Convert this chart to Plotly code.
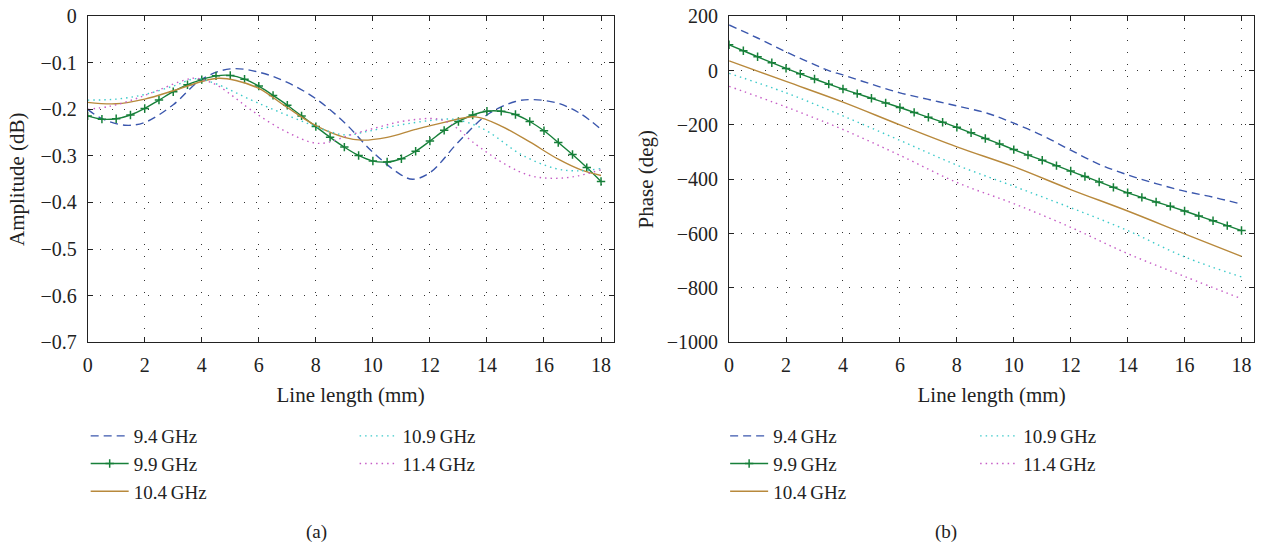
import plotly.graph_objects as go

# ---------------- data ----------------
labels = ["9.4\u2009GHz", "9.9\u2009GHz", "10.4\u2009GHz", "10.9\u2009GHz", "11.4\u2009GHz"]

# Amplitude (dB)
amp94_x = [0, 0.5, 1.3, 2, 3, 4, 5, 6, 7, 8, 9, 10, 11, 11.4, 12, 13, 14, 15, 15.6, 16.5, 17.3, 18]
amp94_y = [-0.200, -0.220, -0.234, -0.228, -0.190, -0.135, -0.113, -0.120, -0.142, -0.177, -0.228,
           -0.292, -0.341, -0.350, -0.336, -0.270, -0.212, -0.183, -0.179, -0.187, -0.210, -0.243]

amp99_x = [0, 0.5, 1, 1.5, 2, 2.5, 3, 3.5, 4, 4.5, 5, 5.5, 6, 6.5, 7, 7.5, 8, 8.5, 9, 9.5,
           10, 10.5, 11, 11.5, 12, 12.5, 13, 13.5, 14, 14.5, 15, 15.5, 16, 16.5, 17, 17.5, 18]
amp99_y = [-0.214, -0.221, -0.220, -0.212, -0.198, -0.180, -0.162, -0.147, -0.136, -0.128, -0.127,
           -0.135, -0.150, -0.170, -0.191, -0.214, -0.237, -0.260, -0.281, -0.299, -0.311, -0.313,
           -0.306, -0.290, -0.268, -0.245, -0.226, -0.212, -0.204, -0.204, -0.211, -0.226, -0.246,
           -0.271, -0.297, -0.325, -0.355]

amp104_x = [0, 1, 2, 3, 4, 4.6, 5.2, 6, 7, 8, 9, 9.6, 10.5, 11.5, 12.5, 13.6, 14.5, 15.5, 16.5, 17.3, 18]
amp104_y = [-0.185, -0.188, -0.178, -0.160, -0.140, -0.133, -0.138, -0.155, -0.196, -0.235, -0.260,
            -0.266, -0.260, -0.243, -0.228, -0.216, -0.236, -0.270, -0.307, -0.330, -0.342]

amp109_x = [0, 1, 2, 3, 3.8, 4.5, 5.7, 6.5, 7.5, 8.5, 9.1, 9.9, 11, 12, 12.8, 13.5, 14.1, 15.2, 16.4, 17.2, 18]
amp109_y = [-0.180, -0.178, -0.168, -0.150, -0.134, -0.145, -0.179, -0.200, -0.225, -0.248, -0.255,
            -0.246, -0.233, -0.224, -0.221, -0.232, -0.250, -0.297, -0.327, -0.332, -0.327]

amp114_x = [0, 0.8, 1.6, 2.5, 3.4, 3.8, 4.5, 5.1, 5.7, 6.9, 8.1, 9.3, 10.2, 11.1, 12.3, 12.9, 13.5,
            14.7, 15.5, 16.2, 17, 18]
amp114_y = [-0.200, -0.193, -0.179, -0.158, -0.137, -0.133, -0.147, -0.172, -0.200, -0.246, -0.273,
            -0.253, -0.238, -0.225, -0.221, -0.238, -0.270, -0.320, -0.342, -0.348, -0.345, -0.330]

# Phase (deg)
ph94_x = [0, 1, 2, 3, 3.5, 4, 5, 6, 7, 8, 9, 9.8, 11, 12, 13, 14, 15, 16, 17, 18]
ph94_y = [168, 120, 69, 22, 0, -16, -50, -82, -106, -130, -155, -185, -239, -293, -345, -384, -416,
          -444, -466, -492]

ph99_x = amp99_x
ph99_y = [95, 73, 51, 29, 8, -12, -31, -50, -68, -85, -102, -119, -136, -154, -172, -190, -209, -229,
          -250, -270, -291, -311, -330, -350, -370, -390, -410, -430, -450, -467, -484, -500, -517,
          -535, -553, -571, -589]

ph_x = [0, 2, 4, 6, 8, 10, 12, 14, 16, 18]
ph104_y = [36, -40, -116, -200, -281, -354, -438, -517, -601, -684]
ph109_y = [-10, -82, -167, -257, -348, -426, -505, -589, -686, -760]
ph114_y = [-58, -134, -217, -312, -412, -490, -577, -674, -758, -840]

# ---------------- styles ----------------
colors = ["#3b57ad", "#17803a", "#b8893c", "#3ccaca", "#c65cc6"]
dashes = ["8px,5px", "solid", "solid", "1.5px,4px", "1.5px,4px"]
FONT = "Liberation Serif"
FS_TICK = 20
FS_TITLE = 21
FS_LEG = 19
W, H = 1261, 548

fig = go.Figure()

amp_series = [(amp94_x, amp94_y), (amp99_x, amp99_y), (amp104_x, amp104_y),
              (amp109_x, amp109_y), (amp114_x, amp114_y)]
ph_series = [(ph94_x, ph94_y), (ph99_x, ph99_y), (ph_x, ph104_y), (ph_x, ph109_y), (ph_x, ph114_y)]

for side, series, xa, ya, lg_a, lg_b in [
    ("a", amp_series, "x", "y", "legend", "legend2"),
    ("b", ph_series, "x2", "y2", "legend3", "legend4"),
]:
    for i, (xs, ys) in enumerate(series):
        kw = dict(
            x=xs, y=ys, name=labels[i], xaxis=xa, yaxis=ya,
            line=dict(color=colors[i], width=1.4, dash=dashes[i], shape="spline", smoothing=1.0),
            legend=lg_a if i < 3 else lg_b,
            legendgroup=side + str(i),
        )
        if i == 1:
            kw["mode"] = "lines+markers"
            kw["marker"] = dict(symbol="cross-thin", size=6, color=colors[i],
                                line=dict(color=colors[i], width=1.5))
        else:
            kw["mode"] = "lines"
        fig.add_trace(go.Scatter(**kw))

axis_common = dict(
    showline=True, linecolor="#222", linewidth=1, mirror="ticks",
    ticks="inside", ticklen=5, tickcolor="#222", tickwidth=1,
    showgrid=True, gridcolor="#333", gridwidth=1, griddash="1px,11px",
    zeroline=False, ticklabeloverflow="allow",
    tickfont=dict(family=FONT, size=FS_TICK, color="#222"),
)

ydom = [1 - 345 / H, 1 - 5.5 / H]
fig.update_layout(
    width=W, height=H,
    margin=dict(l=0, r=0, t=0, b=0),
    paper_bgcolor="white", plot_bgcolor="white",
    font=dict(family=FONT, size=FS_TICK, color="#222"),
    xaxis=dict(domain=[83 / W, 611 / W], range=[0, 18.44], dtick=2, anchor="y",
               ticklabelstandoff=5,
               title=dict(text="Line length (mm)", font=dict(size=FS_TITLE), standoff=12),
               **axis_common),
    yaxis=dict(domain=ydom, range=[-0.7, 0], dtick=0.1, anchor="x", ticklabelstandoff=6,
               title=dict(text="Amplitude (dB)", font=dict(size=FS_TITLE), standoff=10),
               **axis_common),
    xaxis2=dict(domain=[727 / W, 1254 / W], range=[0, 18.44], dtick=2, anchor="y2",
                ticklabelstandoff=5,
                title=dict(text="Line length (mm)", font=dict(size=FS_TITLE), standoff=12),
                **axis_common),
    yaxis2=dict(domain=ydom, range=[-1000, 200], dtick=200, anchor="x2", ticklabelstandoff=6,
                title=dict(text="Phase (deg)", font=dict(size=FS_TITLE), standoff=7),
                **axis_common),
)

leg_common = dict(xanchor="left", yanchor="top", bgcolor="rgba(0,0,0,0)",
                  font=dict(family=FONT, size=FS_LEG, color="#222"), tracegroupgap=0,
                  itemwidth=38, orientation="v")
ytop = 1 - 423 / H
fig.update_layout(
    legend=dict(x=81 / W, y=ytop, **leg_common),
    legend2=dict(x=351 / W, y=ytop, **leg_common),
    legend3=dict(x=723 / W, y=ytop, **leg_common),
    legend4=dict(x=974 / W, y=ytop, **leg_common),
)

for txt, xc in [("(a)", 313), ("(b)", 945)]:
    fig.add_annotation(text=txt, x=xc / W, y=1 - 543 / H, xref="paper", yref="paper",
                       showarrow=False, xanchor="center", yanchor="middle",
                       font=dict(family=FONT, size=FS_LEG, color="#222"))

fig.write_html("out.html", config={"displayModeBar": False},
               post_script="document.body.style.margin='0';document.body.style.padding='0';"
                           "document.documentElement.style.overflow='hidden';")
